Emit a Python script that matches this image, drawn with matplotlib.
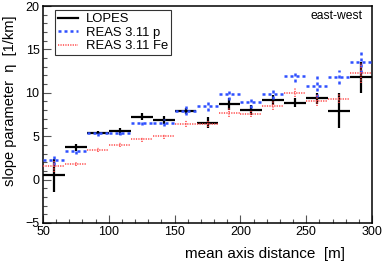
import numpy as np
import matplotlib
matplotlib.use("Agg")
import matplotlib.pyplot as plt
from matplotlib.lines import Line2D
from matplotlib.ticker import MultipleLocator

plt.rcParams['font.family'] = ['Liberation Sans', 'DejaVu Sans']

# bin centres of mean axis distance [m], bin width 50/3 m
distance = [58.3, 75.0, 91.7, 108.3, 125.0, 141.7, 158.3, 175.0,
            191.7, 208.3, 225.0, 241.7, 258.3, 275.0, 291.7]
half_width = 50 / 6

lopes = [0.5, 3.7, 5.4, 5.55, 7.25, 6.87, 7.9, 6.56,
         8.71, 8.02, 9.17, 8.86, 9.36, 7.94, 11.78]
lopes_err = [1.9, 0.45, 0.2, 0.45, 0.4, 0.5, 0.3, 0.6,
             0.65, 0.55, 0.6, 0.55, 0.6, 2.0, 1.8]

reas_p = [2.25, 3.3, 5.33, 5.4, 6.56, 6.56, 7.94, 8.52,
          9.86, 8.98, 9.82, 11.97, 10.75, 11.82, 13.59]
reas_p_err = [0.6, 0.3, 0.35, 0.3, 0.3, 0.4, 0.55, 0.6,
              0.7, 0.7, 0.55, 0.7, 1.2, 0.8, 1.3]

reas_fe = [1.57, 1.8, 3.45, 4.02, 4.64, 4.99, 6.44, 6.37,
           7.71, 7.6, 8.52, 10.01, 9.09, 9.33, 12.28]
reas_fe_err = [0.7, 0.2, 0.3, 0.3, 0.3, 0.3, 0.4, 0.35,
               0.55, 0.4, 0.5, 0.5, 0.65, 0.5, 1.2]

fig = plt.figure(figsize=(3.82, 2.62), dpi=100)
ax = fig.add_axes([0.1126, 0.149, 0.8612, 0.828])

series = [
    (lopes, lopes_err, 'black', '-', 1.6, 'LOPES'),
    (reas_p, reas_p_err, '#2f50ff', (0, (1.2, 1.2)), 1.8, 'REAS 3.11 p'),
    (reas_fe, reas_fe_err, '#ff4848', (0, (0.8, 0.8)), 1.1, 'REAS 3.11 Fe'),
]
handles = []
for i, (vals, errs, col, ls, lw, name) in enumerate(series):
    eb = ax.errorbar(distance, vals, xerr=half_width, yerr=errs, fmt='none',
                     ecolor=col, elinewidth=lw, capsize=0, zorder=2 + i)
    for lc in eb[2]:
        lc.set_linestyle(ls)
    handles.append(Line2D([0], [0], color=col, lw=lw, linestyle=ls, label=name))

ax.set_xlim(50, 300)
ax.set_ylim(-5, 20)
ax.xaxis.set_major_locator(MultipleLocator(50))
ax.xaxis.set_minor_locator(MultipleLocator(10))
ax.yaxis.set_major_locator(MultipleLocator(5))
ax.yaxis.set_minor_locator(MultipleLocator(1))
ax.tick_params(which='both', direction='in', top=False, right=False,
               labelsize=9, width=0.8, color='#555555', pad=2.5)
ax.tick_params(which='major', length=6)
ax.tick_params(which='minor', length=3)
for s in ax.spines.values():
    s.set_linewidth(1.1)

ax.set_xlabel('mean axis distance  [m]', fontsize=11, ha='right')
ax.xaxis.set_label_coords(0.918, -0.113)
ax.set_ylabel('slope parameter  \u03b7  [1/km]', fontsize=10.5, ha='right')
ax.yaxis.set_label_coords(-0.079, 0.958)

ax.text(0.97, 0.954, 'east-west', transform=ax.transAxes, ha='right',
        va='center', fontsize=8.7)

leg = ax.legend(handles=handles, loc='upper left', bbox_to_anchor=(0.036, 0.982),
                fontsize=9.4, frameon=True, fancybox=False, borderpad=0.25,
                handlelength=1.5, handletextpad=0.6, labelspacing=0.1,
                borderaxespad=0)
leg.get_frame().set_edgecolor('black')
leg.get_frame().set_linewidth(0.8)

fig.savefig('out.png', dpi=100)
